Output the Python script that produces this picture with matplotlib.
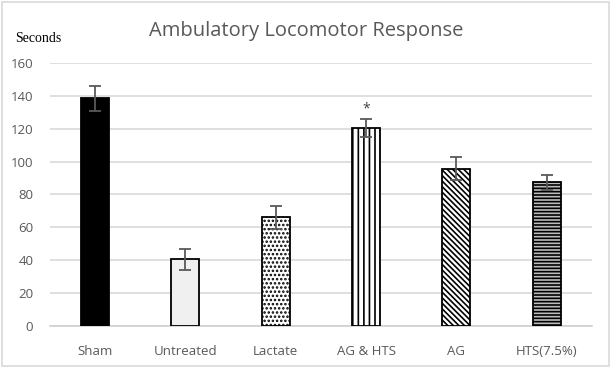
import matplotlib.pyplot as plt
from matplotlib.patches import Rectangle

# Data
groups = ['Sham', 'Untreated', 'Lactate', 'AG & HTS', 'AG', 'HTS(7.5%)']
means = [138.5, 40.5, 66, 120.5, 95.5, 87.5]
errors = [7.5, 6.5, 7, 5.5, 7, 4.5]
yticks = [0, 20, 40, 60, 80, 100, 120, 140, 160]

# Bar styles: face colour and hatch pattern for each group
faces = ['black', '#f0f0f0', 'white', 'white', 'white', '#bcbcbc']
hatches = [None, None, '....', '|||', '\\' * 6, '-' * 5]

plt.rcParams['hatch.linewidth'] = 1.2
plt.rcParams['font.family'] = ['Open Sans', 'DejaVu Sans']

fig = plt.figure(figsize=(6.13, 3.70), dpi=100)
ax = fig.add_axes([0.0816, 0.119, 0.884, 0.711])

# light gray chart border
fig.patches.append(Rectangle((0.004, 0.01), 0.99, 0.985, transform=fig.transFigure,
                             fill=False, edgecolor='#d9d9d9', linewidth=1.2))

x = range(len(groups))
bars = ax.bar(x, means, width=0.31, color=faces, edgecolor='black',
              linewidth=1.3, zorder=3)
for bar, h in zip(bars, hatches):
    if h:
        bar.set_hatch(h)

ax.errorbar(x, means, yerr=errors, fmt='none', ecolor='#595959',
            elinewidth=1.3, capsize=4, capthick=1.3, zorder=4)

# significance marker above AG & HTS
ax.text(3, means[3] + errors[3] + 6, '*', ha='center', va='center',
        fontsize=10, color='#404040')

ax.set_xlim(-0.5, len(groups) - 0.5)
ax.set_ylim(0, 160)
ax.set_yticks(yticks)
ax.set_xticks(list(x))
ax.set_xticklabels(groups)
ax.yaxis.grid(True, color='#d9d9d9', linewidth=1.2, zorder=0)
ax.set_axisbelow(True)
for s in ['top', 'right', 'left']:
    ax.spines[s].set_visible(False)
ax.spines['bottom'].set_color('#d0d0d0')
ax.spines['bottom'].set_linewidth(1.2)
ax.tick_params(axis='both', length=0, labelsize=9.5, labelcolor='#595959')
ax.tick_params(axis='x', pad=14)
ax.tick_params(axis='y', pad=12)

fig.text(0.5, 0.915, 'Ambulatory Locomotor Response', ha='center', va='center',
         fontsize=14.5, color='#595959')
fig.text(0.025, 0.895, 'Seconds', ha='left', va='center', fontsize=10,
         family='Liberation Serif', color='black')

fig.savefig('out.png', dpi=100)
